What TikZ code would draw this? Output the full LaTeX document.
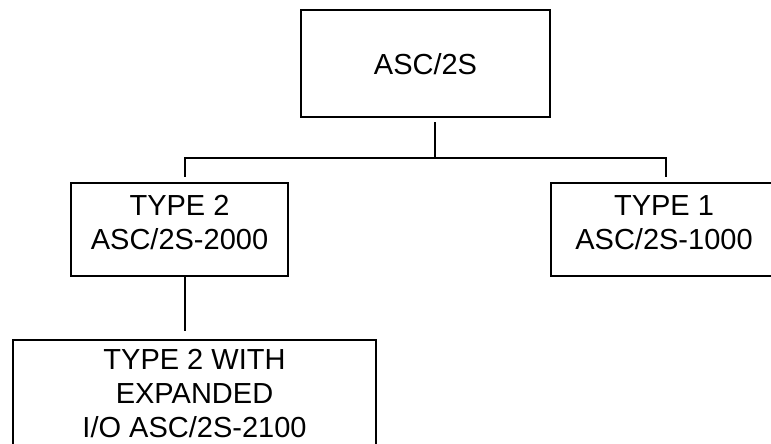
\documentclass[tikz,border=0pt]{standalone}
\usepackage{fontspec}
\setmainfont{Liberation Sans}
\begin{document}
\begin{tikzpicture}[x=1pt,y=-1pt,
  box/.style={draw,line width=2.2pt,rectangle,inner sep=0pt},
  lbl/.style={align=center,inner sep=0pt,font=\fontsize{29}{34}\selectfont,anchor=north},
  conn/.style={line width=2pt}]
\useasboundingbox (0,0) rectangle (771,444);
% boxes
\node[box,minimum width=249pt,minimum height=107pt] (top) at (425.5,63.5) {};
\node[box,minimum width=217pt,minimum height=93pt] (t2) at (179.5,229.5) {};
\node[box,minimum width=226pt,minimum height=93pt] (t1) at (664,229.5) {};
\node[box,minimum width=363pt,minimum height=110pt] (t21) at (194.5,395) {};
% texts
\node[lbl] (toptxt) at (425.5,53) {ASC/2S};
\node[lbl] (t2txt) at (179.5,195) {TYPE 2\\ASC/2S-2000};
\node[lbl] (t1txt) at (664,195) {TYPE 1\\ASC/2S-1000};
\node[lbl] (t21txt) at (194.5,349) {TYPE 2 WITH\\EXPANDED\\I/O ASC/2S-2100};
% connectors
\coordinate (j) at (435,158);
\coordinate (jl) at (185,158);
\coordinate (jr) at (666,158);
\draw[conn] ([yshift=-4pt]top.south -| j) -- (j);
\draw[conn] ([yshift=5pt]t2.north -| jl) -- (jl) -- (jr) -- ([yshift=5pt]t1.north -| jr);
\draw[conn] (t2.south -| jl) -- ([yshift=8pt]t21.north -| jl);
\end{tikzpicture}
\end{document}
